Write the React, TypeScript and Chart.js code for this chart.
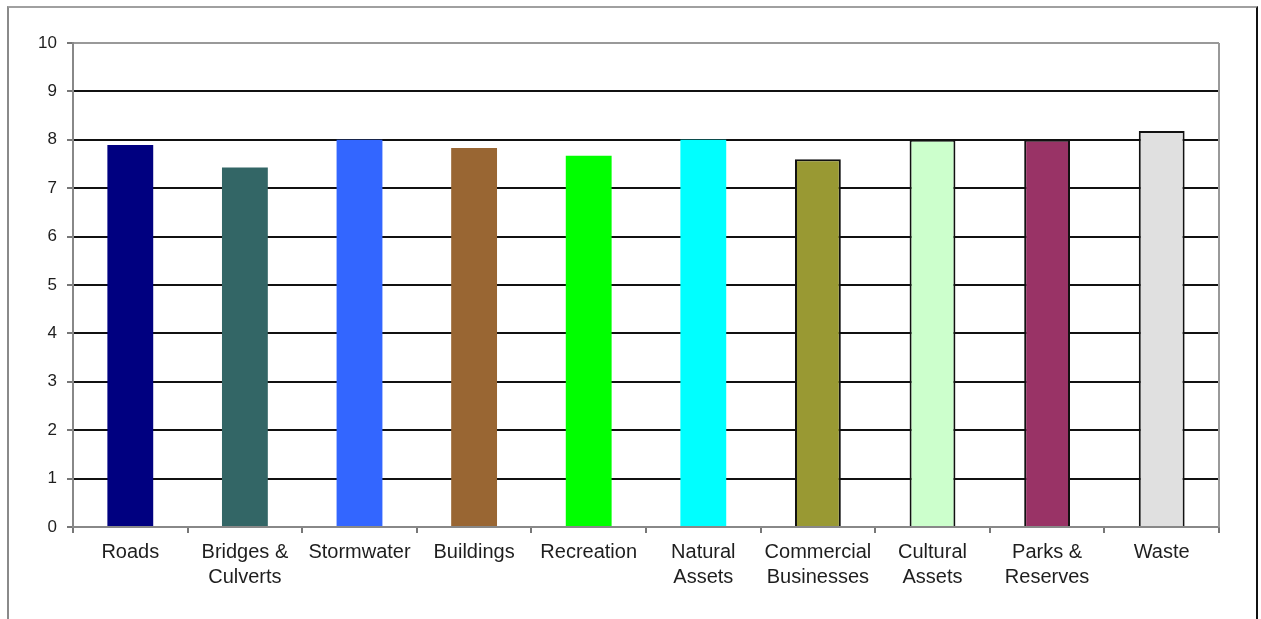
import React, { useEffect, useRef } from "react";
import { Chart, registerables } from "chart.js";

Chart.register(...registerables);

const categories: (string | string[])[] = [
  "Roads",
  ["Bridges &", "Culverts"],
  "Stormwater",
  "Buildings",
  "Recreation",
  ["Natural", "Assets"],
  ["Commercial", "Businesses"],
  ["Cultural", "Assets"],
  ["Parks &", "Reserves"],
  "Waste",
];

const scores: number[] = [7.89, 7.43, 8.0, 7.83, 7.67, 8.0, 7.6, 8.0, 8.0, 8.18];

const barColors: string[] = [
  "#000080",
  "#336666",
  "#3366FF",
  "#996633",
  "#00FF00",
  "#00FFFF",
  "#999933",
  "#CCFFCC",
  "#993366",
  "#E0E0E0",
];

const barBorderWidths: number[] = [0, 0, 0, 0, 0, 0, 2, 2, 2, 2];

const yTicks: number[] = [0, 1, 2, 3, 4, 5, 6, 7, 8, 9, 10];

const frameBorderPlugin = {
  id: "frameBorder",
  afterDraw(chart: any) {
    const { ctx, chartArea } = chart;
    ctx.save();
    ctx.strokeStyle = "#999999";
    ctx.lineWidth = 2;
    ctx.beginPath();
    ctx.moveTo(chartArea.right, chartArea.top);
    ctx.lineTo(chartArea.right, chartArea.bottom);
    ctx.stroke();
    ctx.restore();
  },
};

export default function App() {
  const canvasRef = useRef<HTMLCanvasElement | null>(null);

  useEffect(() => {
    if (!canvasRef.current) return;
    const chart = new Chart(canvasRef.current, {
      type: "bar",
      data: {
        labels: categories,
        datasets: [
          {
            data: scores,
            backgroundColor: barColors,
            borderColor: "#111111",
            borderWidth: barBorderWidths,
            categoryPercentage: 1,
            barPercentage: 0.4,
          },
        ],
      },
      options: {
        animation: false,
        responsive: false,
        maintainAspectRatio: false,
        layout: { padding: { top: 43, right: 42, bottom: 0, left: 0 } },
        plugins: {
          legend: { display: false },
          tooltip: { enabled: false },
          title: { display: false },
        },
        scales: {
          x: {
            offset: true,
            grid: {
              display: true,
              offset: true,
              drawOnChartArea: false,
              drawTicks: true,
              tickLength: 6,
              color: "#777777",
              lineWidth: 2,
            },
            border: { display: true, color: "#888888", width: 2 },
            ticks: {
              color: "#1e1e1e",
              padding: 7,
              font: { family: "'Liberation Sans', Arial, sans-serif", size: 20, lineHeight: 1.25 },
              maxRotation: 0,
              autoSkip: false,
            },
            afterFit(scale: any) {
              scale.height = 92;
            },
          },
          y: {
            min: 0,
            max: 10,
            afterBuildTicks(scale: any) {
              scale.ticks = yTicks.map((v) => ({ value: v }));
            },
            grid: {
              display: true,
              drawTicks: true,
              tickLength: 6,
              color: (ctx: any) =>
                ctx.tick && (ctx.tick.value === 0 || ctx.tick.value === 10) ? "#999999" : "#111111",
              tickColor: "#777777",
              lineWidth: 2,
            },
            border: { display: true, color: "#888888", width: 2 },
            ticks: {
              color: "#1e1e1e",
              padding: 10,
              font: { family: "'Liberation Sans', Arial, sans-serif", size: 17 },
            },
            afterFit(scale: any) {
              scale.width = 73;
            },
          },
        },
      },
      plugins: [frameBorderPlugin],
    });
    return () => chart.destroy();
  }, []);

  return (
    <div style={{ position: "fixed", left: 0, top: 0, width: 1261, height: 619, background: "#fff", overflow: "hidden" }}>
      <div
        style={{
          position: "absolute",
          left: 7,
          top: 6,
          width: 1247,
          height: 700,
          borderLeft: "2px solid #8a8a8a",
          borderTop: "2px solid #a0a0a0",
          borderRight: "2px solid #111111",
          boxSizing: "content-box",
        }}
      />
      <canvas
        ref={canvasRef}
        width={1261}
        height={619}
        style={{ position: "absolute", left: 0, top: 0, width: 1261, height: 619 }}
      />
    </div>
  );
}
